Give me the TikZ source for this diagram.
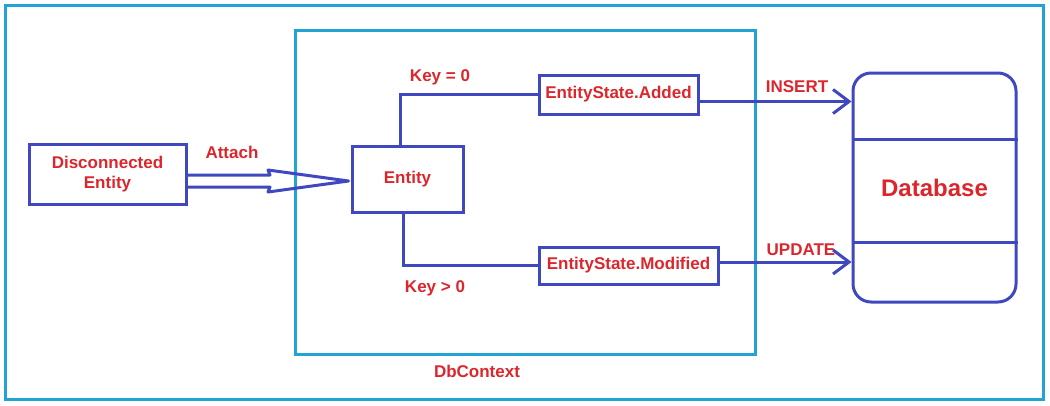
\documentclass[tikz,border=0pt]{standalone}
\usepackage{fontspec}
\setmainfont{Liberation Sans}
\usetikzlibrary{arrows.meta}
\definecolor{bl}{RGB}{63,72,190}
\definecolor{rd}{RGB}{220,38,44}
\definecolor{cy}{RGB}{34,163,214}
\begin{document}
\begin{tikzpicture}[x=1pt,y=-1pt,
  txt/.style={text=rd,font=\bfseries\fontsize{17}{20}\selectfont,inner sep=0pt},
  box/.style={txt,draw=bl,line width=3pt,align=center},
  conn/.style={draw=bl,line width=3pt},
  frame/.style={draw=cy,line width=3pt},
  arr/.style={conn,-{Straight Barb[length=16pt,width=24pt,line width=3pt]}}]
\useasboundingbox (0,0) rectangle (1050,405);
\draw[frame] (5,5) rectangle (1043,399);
\draw[frame] (295,30) rectangle (755,354);
\node[box,minimum width=157pt,minimum height=60pt] (dis) at (107.5,174) {Disconnected\\Entity};
\node[box,minimum width=111pt,minimum height=66pt] (ent) at (407.5,179) {Entity};
\node[box,minimum width=159pt,minimum height=39pt] (add) at (618.5,94.5) {EntityState.Added};
\node[box,minimum width=179pt,minimum height=37pt] (mod) at (628.5,265.5) {EntityState.Modified};
\node[box,minimum width=163pt,minimum height=229pt,rounded corners=18pt,font=\bfseries\fontsize{24}{28}\selectfont] (db) at (934.5,187.5) {Database};
\draw[conn] (db.west |- 0,139) -- (db.east |- 0,139);
\draw[conn] (db.west |- 0,242) -- (db.east |- 0,242);
% hollow arrow
\coordinate (h1) at ([yshift=-1pt]dis.east);
\coordinate (h2) at ([yshift=-13pt]dis.east);
\coordinate (tip) at ([xshift=-2pt]ent.west |- 0,181);
\draw[conn,line join=round] (h1) -- (270,175) -- (268,170) -- (tip) -- (268,192) -- (270,187) -- (h2);
% branches
\draw[conn] ([xshift=-7pt]ent.north) |- (add.west);
\draw[conn] ([xshift=-4pt]ent.south) |- (mod.west);
\coordinate (i1) at ([yshift=-7pt]add.east);
\coordinate (u1) at ([yshift=3.5pt]mod.east);
\draw[arr] (i1) -- (i1 -| db.west);
\draw[arr] (u1) -- (u1 -| db.west);
% labels
\node[txt] (lattach) at (232,152) {Attach};
\node[txt] (lk0) at (440,77) {Key = 0};
\node[txt] (lk1) at (435,288) {Key > 0};
\node[txt] (lins) at (797,87) {INSERT};
\node[txt] (lupd) at (801,250) {UPDATE};
\node[txt] (lctx) at (477,371) {DbContext};
\end{tikzpicture}
\end{document}
